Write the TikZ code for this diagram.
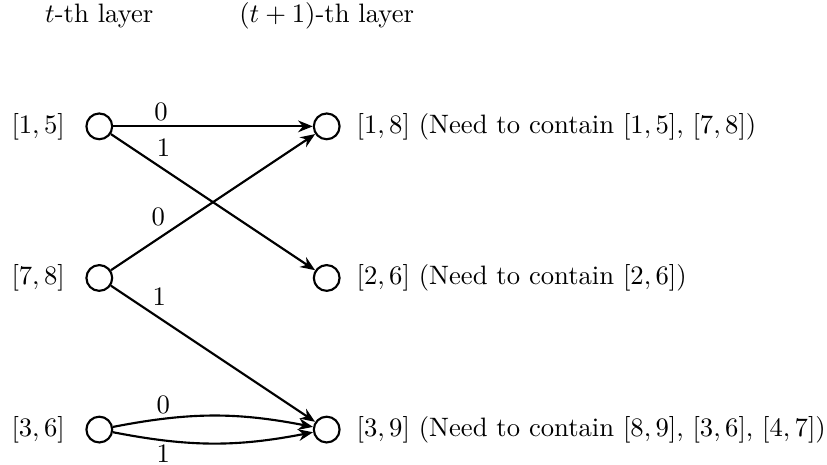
\documentclass[tikz,border=0pt]{standalone}
\usetikzlibrary{positioning,arrows.meta}
\begin{document}
\begin{tikzpicture}[x=1cm,y=1cm,>={Stealth[length=5.5pt,width=4.4pt]},thick,font=\normalsize,
  vert/.style={draw,circle,minimum size=0.34cm,inner sep=0pt},
  lab/.style={auto,inner sep=1.5pt}]
  \useasboundingbox (-1.31,-0.46) rectangle (9.60,5.667);
  \node (h1) at (0,5.46) {$t$-th layer};
  \node (h2) at (3,5.46) {$(t+1)$-th layer};
  \node[vert] (a1) at (0,4) {};
  \node[vert] (a2) at (0,2) {};
  \node[vert] (a3) at (0,0) {};
  \node[vert] (b1) at (3,4) {};
  \node[vert] (b2) at (3,2) {};
  \node[vert] (b3) at (3,0) {};
  \node[left=0.14cm of a1] (la1) {$[1,5]$};
  \node[left=0.14cm of a2] (la2) {$[7,8]$};
  \node[left=0.14cm of a3] (la3) {$[3,6]$};
  \node[right=0.08cm of b1] (lb1) {$[1,8]$ (Need to contain $[1,5]$, $[7,8]$)};
  \node[right=0.08cm of b2] (lb2) {$[2,6]$ (Need to contain $[2,6]$)};
  \node[right=0.08cm of b3] (lb3) {$[3,9]$ (Need to contain $[8,9]$, $[3,6]$, $[4,7]$)};
  \draw[->] (a1) -- node[lab,pos=.24] (e1) {0} (b1);
  \draw[->] (a1) -- node[lab,pos=.2] (e2) {1} (b2);
  \draw[->] (a2) -- node[lab,pos=.29] (e3) {0} (b1);
  \draw[->] (a2) -- node[lab,pos=.18] (e4) {1} (b3);
  \draw[->] (a3) to[bend left=11] node[lab,inner sep=1pt,pos=.29] (e5) {0} (b3);
  \draw[->] (a3) to[bend right=11] node[lab,inner sep=1pt,swap,pos=.29] (e6) {1} (b3);
\end{tikzpicture}
\end{document}
